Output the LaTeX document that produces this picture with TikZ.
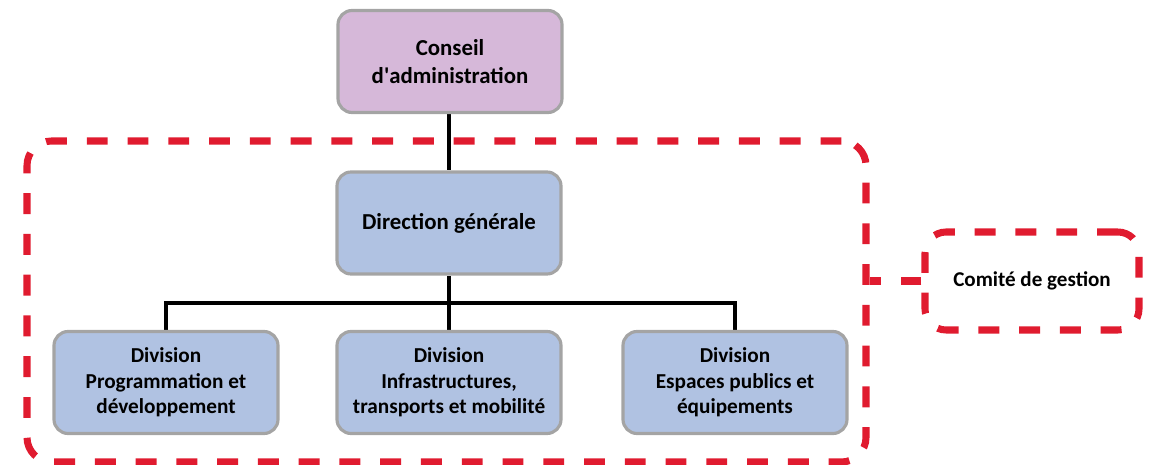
\documentclass[tikz,border=0pt]{standalone}
\usepackage{fontspec}
\setmainfont{Carlito}
\definecolor{boardfill}{HTML}{D6B8D9}
\definecolor{unitfill}{HTML}{B0C2E2}
\definecolor{unitline}{HTML}{A4A4A4}
\definecolor{framered}{HTML}{E01B2F}
\pgfdeclarelayer{frames}
\pgfdeclarelayer{links}
\pgfsetlayers{frames,links,main}
\tikzset{
  unit/.style={draw=unitline, line width=1.8pt, rounded corners=8pt,
    fill=unitfill, align=center, inner sep=2pt,
    font=\fontsize{12.1}{14.5}\selectfont\bfseries,
    minimum width=224*0.02cm, minimum height=102*0.02cm},
  head/.style={unit, font=\fontsize{13}{15.5}\selectfont\bfseries},
  board/.style={head, fill=boardfill},
  redframe/.style={draw=framered, line width=4pt,
    dash pattern=on 11.9pt off 11.3pt},
  link/.style={draw=black, line width=2.2pt},
}
\begin{document}
\begin{tikzpicture}[x=0.02cm, y=-0.02cm]
  \useasboundingbox (0,0) rectangle (1153,465);

  % organisation chart boxes
  \node (ca) [board] at (450,61.5) {Conseil\\d\textquotesingle administration};
  \node (dg) [head] at (449,223) {Direction générale};
  \node (d1) [unit] at (166,382.5) {Division\\Programmation et\\développement};
  \node (d2) [unit] at (449,382.5) {Division\\Infrastructures,\\transports et mobilité};
  \node (d3) [unit] at (735,382.5) {Division\\Espaces publics et\\équipements};
  \coordinate (bus) at (449,303);

  % management committee frames, below everything else
  \begin{pgfonlayer}{frames}
    \node (cgarea) [redframe, rounded corners=14pt,
      minimum width=839*0.02cm, minimum height=321*0.02cm] at (446.5,301.5) {};
    \node (cgbox) [redframe, rounded corners=12pt,
      minimum width=214*0.02cm, minimum height=98*0.02cm,
      font=\fontsize{12}{14}\selectfont\bfseries] at (1032,281) {Comité de gestion};
    \draw[redframe] (cgbox.west) -- (cgbox.west -| cgarea.east);
  \end{pgfonlayer}

  % reporting lines, drawn under the boxes
  \begin{pgfonlayer}{links}
    \draw[link] (ca.south -| dg) -- (dg);
    \draw[link] (dg) -- (d2);
    \draw[link] (d1) |- (bus) -| (d3);
  \end{pgfonlayer}
\end{tikzpicture}
\end{document}
